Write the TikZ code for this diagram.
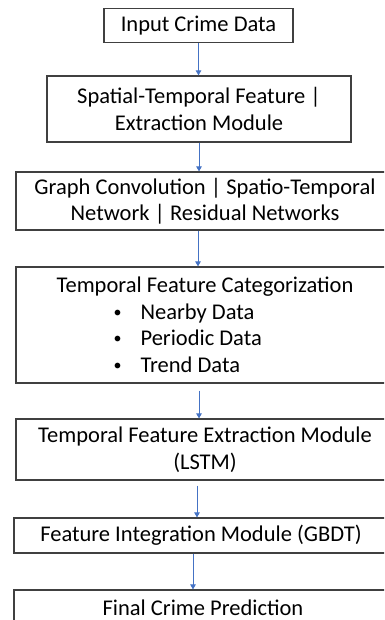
\documentclass[tikz,border=0pt]{standalone}
\usepackage{fontspec}
\setmainfont{Carlito}
\usepackage{xcolor}
\usetikzlibrary{arrows.meta}
\definecolor{kader}{RGB}{64,64,64}
\definecolor{pijlblauw}{RGB}{68,114,196}
\tikzstyle{block} = [rectangle, draw=kader, line width=1.2pt, inner sep=0pt,
align=center, font=\fontsize{22.5}{26.5}\selectfont]
\tikzstyle{pijltje} = [draw=pijlblauw, line width=0.9pt, -{Triangle[width=5.5pt,length=5pt]}]
\newcommand{\opsom}[1]{\hspace*{57pt}\makebox[27pt][l]{\raisebox{2pt}{\fontsize{16}{16}\selectfont\textbullet}}#1}

\begin{document}
\begin{tikzpicture}[x=1pt, y=-1pt]
	\useasboundingbox (0,0) rectangle (384,620);
	\clip (0,0) rectangle (384,620);
	
	\node [block, minimum width=189pt, minimum height=34pt] (input) at (198.5,25.5) {Input Crime Data};
	\node [block, minimum width=304pt, minimum height=66pt] (spatial) at (199,109) {Spatial-Temporal Feature |\\ Extraction Module};
	\node [block, minimum width=378pt, minimum height=58pt] (graph) at (205,201) {Graph Convolution | Spatio-Temporal\\ Network | Residual Networks};
	\node [block, minimum width=378pt, minimum height=116pt, align=left] (categ) at (205,325) {Temporal Feature Categorization\\ \opsom{Nearby Data}\\ \opsom{Periodic Data}\\ \opsom{Trend Data}};
	\node [block, minimum width=378pt, minimum height=61pt] (lstm) at (205,449.5) {Temporal Feature Extraction Module\\ (LSTM)};
	\node [block, minimum width=374pt, minimum height=35pt] (gbdt) at (201,535.5) {Feature Integration Module (GBDT)};
	\node [block, minimum width=378pt, minimum height=36pt] (final) at (203,608) {Final Crime Prediction};
	
	
	\path [pijltje] (input.south)--(input.south |- spatial.north);
	\path [pijltje] (spatial.south)--(spatial.south |- graph.north);
	\path [pijltje] ([xshift=-7pt]graph.south)--([xshift=-7pt]graph.south |- categ.north);
	\path [pijltje] ([xshift=-6pt,yshift=-7pt]categ.south)--([xshift=-6pt]categ.south |- lstm.north);
	\path [pijltje] ([xshift=-8pt,yshift=-5pt]lstm.south)--([xshift=-8pt]lstm.south |- gbdt.north);
	\path [pijltje] ([xshift=-8pt]gbdt.south)--([xshift=-8pt]gbdt.south |- final.north);
\end{tikzpicture}
\end{document}
